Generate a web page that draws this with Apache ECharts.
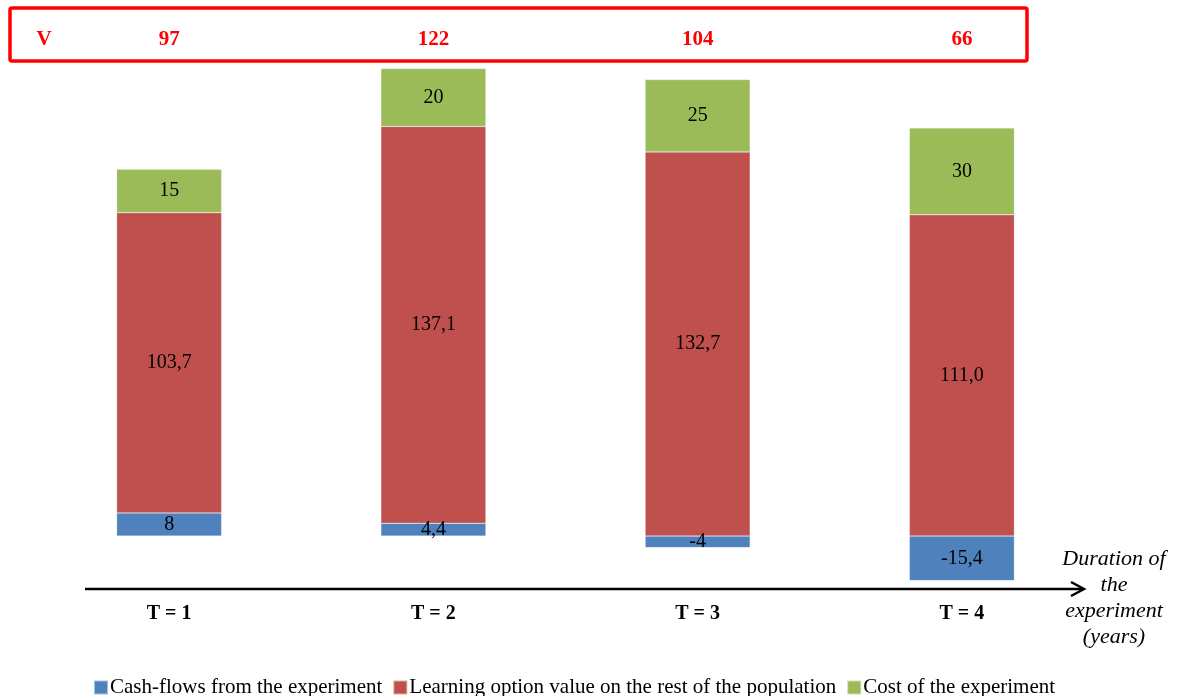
<!DOCTYPE html>
<html>
<head>
<meta charset="utf-8">
<script src="https://cdn.jsdelivr.net/npm/echarts@6/dist/echarts.min.js"></script>
<style>html,body{margin:0;padding:0;background:#fff;}#chart{width:1178px;height:696px;}</style>
</head>
<body>
<div id="chart"></div>
<script>
var categories = ['T = 1', 'T = 2', 'T = 3', 'T = 4'];
var cashFlows = [8, 4.4, -4, -15.4];
var learningValue = [103.7, 137.1, 132.7, 111.0];
var costValues = [15, 20, 25, 30];
var vValues = [97, 122, 104, 66];
var seriesNames = ['Cash-flows from the experiment', 'Learning option value on the rest of the population', 'Cost of the experiment'];

var serif = '"Liberation Serif", "Times New Roman", serif';
function fmtGeneral(p) { return String(p.value).replace('.', ','); }
function fmtOneDec(p) { return Number(p.value).toFixed(1).replace('.', ','); }

var labelStyle = { show: true, position: 'inside', color: '#000', fontSize: 20, fontFamily: serif };

var chart = echarts.init(document.getElementById('chart'));
chart.setOption({
  animation: false,
  color: ['#4F81BD', '#C0504D', '#9BBB59'],
  grid: { left: 37, right: 84, top: 44, bottom: 107 },
  xAxis: [
    {
      type: 'category', data: categories, position: 'bottom',
      axisLine: { show: false }, axisTick: { show: false },
      axisLabel: { fontFamily: serif, fontSize: 20, fontWeight: 'bold', color: '#000', margin: 15 }
    },
    {
      type: 'category', data: vValues.map(String), position: 'top',
      axisLine: { show: false }, axisTick: { show: false },
      axisLabel: { fontFamily: serif, fontSize: 21, fontWeight: 'bold', color: '#FF0000', margin: 4, verticalAlign: 'middle' }
    }
  ],
  yAxis: { type: 'value', min: -18.3, max: 170, show: false, splitLine: { show: false } },
  legend: {
    left: 88, top: 672, itemWidth: 14, itemHeight: 14, itemGap: 10,
    icon: 'rect',
    textStyle: { fontFamily: serif, fontSize: 21, color: '#000', padding: [0, 0, 0, -3] },
    data: seriesNames
  },
  series: [
    { name: seriesNames[0], type: 'bar', stack: 'total', data: cashFlows, barWidth: 105,
      itemStyle: { borderColor: 'rgba(255,255,255,0.5)', borderWidth: 0.5 },
      label: Object.assign({}, labelStyle, { formatter: fmtGeneral }) },
    { name: seriesNames[1], type: 'bar', stack: 'total', data: learningValue, barWidth: 105,
      itemStyle: { borderColor: 'rgba(255,255,255,0.5)', borderWidth: 0.5 },
      label: Object.assign({}, labelStyle, { formatter: fmtOneDec }) },
    { name: seriesNames[2], type: 'bar', stack: 'total', data: costValues, barWidth: 105,
      itemStyle: { borderColor: 'rgba(255,255,255,0.5)', borderWidth: 0.5 },
      label: Object.assign({}, labelStyle, { formatter: fmtGeneral }) }
  ],
  graphic: [
    { type: 'rect', shape: { x: 10, y: 8, width: 1017, height: 53, r: 2 },
      style: { fill: 'none', stroke: '#FF0000', lineWidth: 3.5 } },
    { type: 'text', x: 44, y: 40,
      style: { text: 'V', fill: '#FF0000', font: 'bold 21px ' + serif, textAlign: 'center', textVerticalAlign: 'middle' } },
    { type: 'line', shape: { x1: 85, y1: 589, x2: 1082, y2: 589 },
      style: { stroke: '#000', lineWidth: 2.5 } },
    { type: 'polyline', shape: { points: [[1071, 582], [1084, 589], [1071, 596]] },
      style: { stroke: '#000', lineWidth: 2.5, fill: 'none' } },
    { type: 'text', x: 1114, y: 598,
      style: { text: 'Duration of\nthe\nexperiment\n(years)', fill: '#000', font: 'italic 22px ' + serif,
        textAlign: 'center', textVerticalAlign: 'middle', lineHeight: 26 } }
  ]
});
</script>
</body>
</html>
